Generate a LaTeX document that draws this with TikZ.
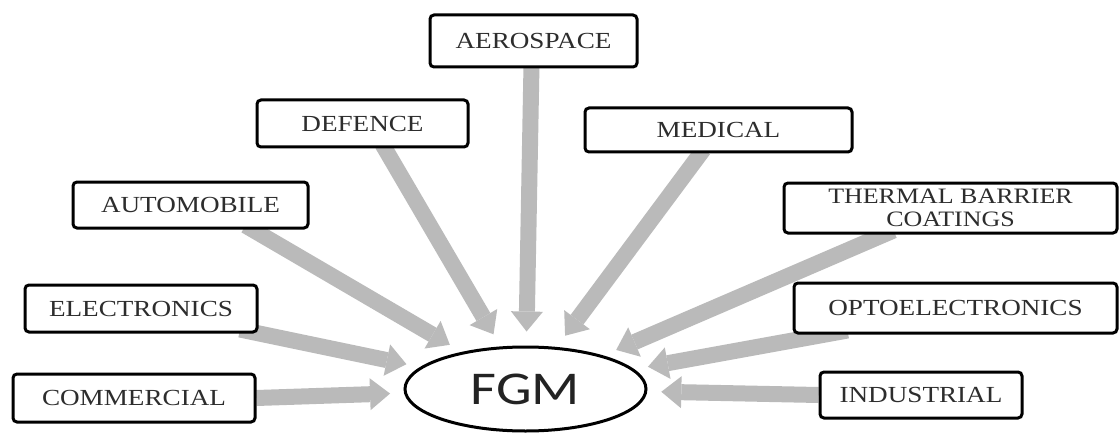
\documentclass[tikz,border=0pt]{standalone}
\usepackage{fontspec}
\setmainfont{Liberation Serif}[FakeStretch=1.18]
\newfontfamily\fgmfont{Carlito}[FakeStretch=1.2]
\usetikzlibrary{shapes.geometric,arrows.meta}
\pgfdeclarelayer{background}
\pgfsetlayers{background,main}
\definecolor{arrgray}{RGB}{186,186,186}
\definecolor{txtgray}{RGB}{45,45,45}
\begin{document}
\begin{tikzpicture}[x=1pt,y=-1pt,
  box/.style={draw=black,line width=3pt,rounded corners=4pt,fill=white,inner sep=0pt,
    text=txtgray,font=\fontsize{23}{21}\selectfont,align=center},
  arr/.style={draw=arrgray,line width=16pt,
    -{Triangle[width=32pt,length=20pt,line width=0pt]},shorten >=14pt}]
\useasboundingbox (0,0) rectangle (1119,433);

\node[box,minimum width=207pt,minimum height=52pt] (aero) at (533.5,41) {AEROSPACE};
\node[box,minimum width=211pt,minimum height=47pt] (def) at (362.5,123.5) {DEFENCE};
\node[box,minimum width=267pt,minimum height=44pt] (med) at (718.5,130) {MEDICAL};
\node[box,minimum width=235pt,minimum height=46pt] (auto) at (190.5,205) {AUTOMOBILE};
\node[box,minimum width=333pt,minimum height=50pt,font=\fontsize{22}{22.5}\selectfont] (tbc) at (950.5,208) {THERMAL BARRIER\\COATINGS};
\node[box,minimum width=232pt,minimum height=47pt] (elec) at (141,308.5) {ELECTRONICS};
\node[box,minimum width=323pt,minimum height=50pt] (opto) at (955.5,308) {OPTOELECTRONICS};
\node[box,minimum width=242pt,minimum height=48pt] (comm) at (134,398) {COMMERCIAL};
\node[box,minimum width=202pt,minimum height=46pt] (ind) at (921,395) {INDUSTRIAL};

\node[ellipse,draw=black,line width=3pt,fill=white,inner sep=0pt,
  minimum width=241pt,minimum height=84pt,text={rgb,255:red,35;green,35;blue,35},
  font=\fgmfont\fontsize{47}{47}\selectfont] (fgm) at (525.5,389) {FGM};

\begin{pgfonlayer}{background}
\fill[white] (0,0) rectangle (1119,433);
\draw[arr] (comm.east) -- (fgm);
\draw[arr] ([xshift=99pt,yshift=4pt]elec.south) -- (fgm);
\draw[arr] ([xshift=55pt,yshift=4pt]auto.south) -- (fgm);
\draw[arr] ([xshift=20pt,yshift=4pt]def.south) -- (fgm);
\draw[arr] ([xshift=-2pt,yshift=4pt]aero.south) -- (fgm);
\draw[arr] ([xshift=-15pt,yshift=4pt]med.south) -- (fgm);
\draw[arr] ([xshift=-57pt,yshift=4pt]tbc.south) -- (fgm);
\draw[arr] ([xshift=-108pt,yshift=4pt]opto.south) -- (fgm);
\draw[arr] (ind.west) -- (fgm);
\end{pgfonlayer}
\end{tikzpicture}
\end{document}
